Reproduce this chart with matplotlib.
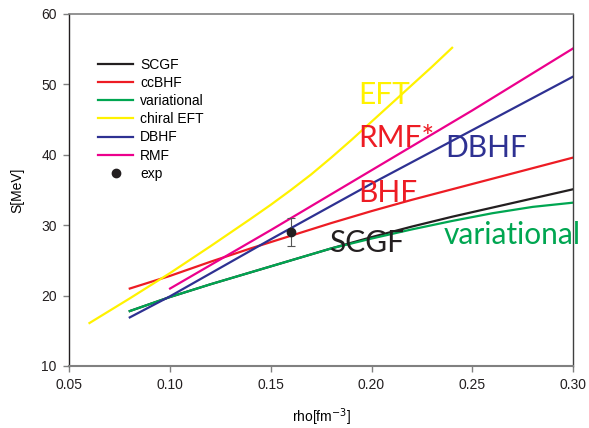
import matplotlib.pyplot as plt
import numpy as np

plt.rcParams["font.family"] = ["Liberation Sans", "DejaVu Sans"]
plt.rcParams["font.size"] = 10

# symmetry energy curves
rho_scgf = [0.08, 0.10, 0.12, 0.14, 0.16, 0.18, 0.20, 0.22, 0.24, 0.26, 0.28, 0.30]
s_scgf = [17.8, 19.8, 21.6, 23.3, 25.0, 26.7, 28.3, 29.8, 31.2, 32.5, 33.8, 35.1]

rho_ccbhf = [0.08, 0.10, 0.12, 0.14, 0.16, 0.18, 0.20, 0.22, 0.24, 0.26, 0.28, 0.30]
s_ccbhf = [21.0, 22.8, 24.8, 26.7, 28.5, 30.3, 32.0, 33.6, 35.1, 36.6, 38.1, 39.6]

rho_var = [0.08, 0.10, 0.12, 0.14, 0.16, 0.18, 0.20, 0.22, 0.24, 0.26, 0.28, 0.30]
s_var = [17.8, 19.8, 21.6, 23.3, 25.0, 26.7, 28.1, 29.4, 30.6, 31.7, 32.6, 33.2]

rho_eft = [0.06, 0.08, 0.10, 0.12, 0.14, 0.15, 0.16, 0.17, 0.18, 0.19,
           0.20, 0.21, 0.22, 0.23, 0.24]
s_eft = [16.1, 19.6, 23.2, 27.0, 30.9, 32.9, 35.0, 37.2, 39.6, 42.1,
         44.7, 47.3, 49.9, 52.5, 55.2]

rho_dbhf = [0.08, 0.10, 0.15, 0.20, 0.25, 0.30]
s_dbhf = [16.9, 19.9, 28.0, 35.9, 43.5, 51.1]

rho_rmf = [0.10, 0.15, 0.20, 0.25, 0.30]
s_rmf = [21.0, 29.3, 37.8, 46.3, 55.1]

rho_exp = [0.16]
s_exp = [29.0]
s_exp_err = [2.0]

curves = [
    ("SCGF", rho_scgf, s_scgf, "#231f20"),
    ("ccBHF", rho_ccbhf, s_ccbhf, "#ed1c24"),
    ("variational", rho_var, s_var, "#00a651"),
    ("chiral EFT", rho_eft, s_eft, "#fff200"),
    ("DBHF", rho_dbhf, s_dbhf, "#2e3192"),
    ("RMF", rho_rmf, s_rmf, "#ec008c"),
]

# big labels written in the plot
labels = [
    ("EFT", 0.1935, 47.2, "#fff200"),
    ("RMF*", 0.1935, 41.15, "#ed1c24"),
    ("DBHF", 0.2365, 39.65, "#2e3192"),
    ("BHF", 0.1935, 33.3, "#ed1c24"),
    ("SCGF", 0.179, 26.15, "#231f20"),
    ("variational", 0.236, 27.3, "#00a651"),
]

fig = plt.figure(figsize=(5.89, 4.28), dpi=100)
ax = fig.add_axes([0.1177, 0.1449, 0.8551, 0.8224])

for name, x, y, col in curves:
    ax.plot(x, y, color=col, lw=1.6, label=name)

ax.errorbar(rho_exp, s_exp, yerr=s_exp_err, fmt="none", ecolor="#555555",
            elinewidth=0.8, capsize=3, capthick=0.8)
ax.plot(rho_exp, s_exp, "o", color="#231f20", ms=6, ls="none", label="exp")

for txt, x, y, col in labels:
    ax.text(x, y, txt, color=col, fontsize=21.5, family=["Lato", "DejaVu Sans"],
            va="baseline", ha="left", clip_on=False)

ax.set_xlim(0.05, 0.30)
ax.set_ylim(10, 60)
ax.set_xticks(np.arange(0.05, 0.301, 0.05))
ax.set_xticklabels(["0.05", "0.10", "0.15", "0.20", "0.25", "0.30"])
ax.set_yticks(np.arange(10, 61, 10))
ax.set_xlabel("rho[fm$^{-3}$]", labelpad=10)
ax.set_ylabel("S[MeV]", labelpad=12)

ax.spines["left"].set_color("#231f20")
ax.spines["left"].set_linewidth(1.0)
ax.spines["bottom"].set_color("#808080")
ax.spines["bottom"].set_linewidth(1.5)
ax.spines["top"].set_color("#808080")
ax.spines["top"].set_linewidth(1.2)
ax.spines["right"].set_color("#404040")
ax.spines["right"].set_linewidth(1.0)
ax.tick_params(direction="out", length=4, color="#808080", width=1.0, pad=5,
               labelcolor="#231f20")

ax.legend(loc="upper left", bbox_to_anchor=(0.033, 0.911), frameon=False,
          handlelength=2.5, handletextpad=0.5, labelspacing=0.3, fontsize=10)

fig.savefig("out.png", dpi=100)
